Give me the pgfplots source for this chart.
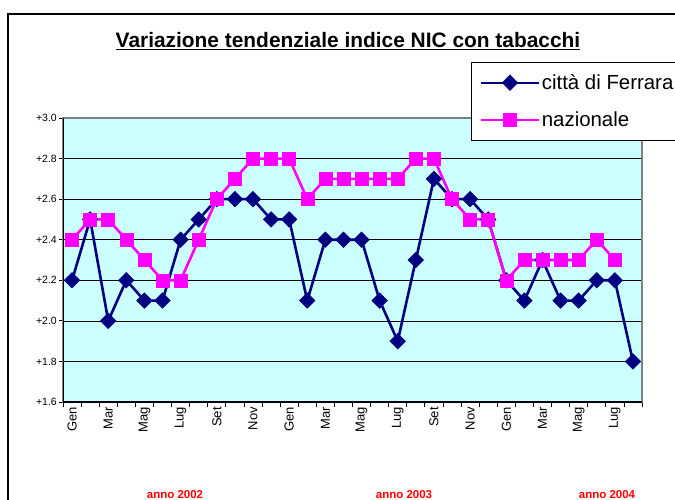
\documentclass[border=0pt]{standalone}
\usepackage{pgfplots}
\pgfplotsset{compat=1.18}
\usepackage{fontspec}
\setmainfont{Liberation Sans}
\definecolor{navyF}{RGB}{0,0,128}
\definecolor{magN}{RGB}{255,0,255}
\definecolor{bgC}{RGB}{204,255,255}
\begin{document}
\begin{tikzpicture}[x=1pt,y=1pt]
\useasboundingbox (0pt,0pt) rectangle (675pt,499pt);
\begin{scope}
\clip (0pt,0pt) rectangle (675pt,499pt);
\draw[black, line width=1.2pt] (8pt,-5pt) -- (8pt,485pt) -- (700pt,485pt);
\node[font=\bfseries\fontsize{20.9}{22}\selectfont] at (348pt,458pt) {\underline{Variazione tendenziale indice NIC con tabacchi}};
\begin{axis}[
  at={(63pt,97pt)}, anchor=south west,
  scale only axis, width=579pt, height=284pt,
  xmin=-0.5, xmax=31.5, ymin=1.6, ymax=3.0,
  axis background/.style={fill=bgC},
  axis line style={draw=gray, line width=1.5pt},
  tick align=outside, tick pos=left,
  xtick={0,2,4,6,8,10,12,14,16,18,20,22,24,26,28,30},
  xticklabels={Gen,Mar,Mag,Lug,Set,Nov,Gen,Mar,Mag,Lug,Set,Nov,Gen,Mar,Mag,Lug},
  x tick label style={rotate=90, anchor=east, font=\fontsize{13}{13}\selectfont, inner sep=1pt},
  major x tick style={draw=none},
  minor xtick={-0.5,0.5,...,31.5},
  minor tick length=5pt,
  minor x tick style={black, line width=0.8pt},
  ytick={1.6,1.8,2.0,2.2,2.4,2.6,2.8,3.0},
  yticklabels={+1.6,+1.8,+2.0,+2.2,+2.4,+2.6,+2.8,+3.0},
  y tick label style={font=\fontsize{10.5}{11}\selectfont, inner sep=2pt},
  major tick length=4pt,
  major y tick style={black, line width=0.8pt},
  ymajorgrids, grid style={black, line width=0.6pt},
  legend style={at={(0.705,1.197)}, anchor=north west, draw=black, fill=white,
    font=\fontsize{20.4}{20.4}\selectfont, row sep=15pt, inner xsep=9pt, inner ysep=9pt,
    line width=0.8pt, nodes={inner xsep=2.5pt, inner ysep=3pt}},
  legend cell align=left,
  legend image code/.code={\draw[#1, line width=1.8pt, mark repeat=2, mark phase=2] plot coordinates {(0pt,0pt) (28.5pt,0pt) (57pt,0pt)};},
]
\addplot[navyF, line width=2.6pt, mark=square*, mark size=5.5pt, mark options={solid, rotate=45, fill=navyF, line width=0.5pt}] coordinates {
(0,2.2) (1,2.5) (2,2.0) (3,2.2) (4,2.1) (5,2.1) (6,2.4) (7,2.5) (8,2.6) (9,2.6)
(10,2.6) (11,2.5) (12,2.5) (13,2.1) (14,2.4) (15,2.4) (16,2.4) (17,2.1) (18,1.9) (19,2.3)
(20,2.7) (21,2.6) (22,2.6) (23,2.5) (24,2.2) (25,2.1) (26,2.3) (27,2.1) (28,2.1) (29,2.2)
(30,2.2) (31,1.8)};
\addlegendentry{\makebox[160pt][l]{città di Ferrara}}
\addplot[magN, line width=2.6pt, mark=square*, mark size=6.5pt, mark options={solid, fill=magN, line width=0.5pt}] coordinates {
(0,2.4) (1,2.5) (2,2.5) (3,2.4) (4,2.3) (5,2.2) (6,2.2) (7,2.4) (8,2.6) (9,2.7)
(10,2.8) (11,2.8) (12,2.8) (13,2.6) (14,2.7) (15,2.7) (16,2.7) (17,2.7) (18,2.7) (19,2.8)
(20,2.8) (21,2.6) (22,2.5) (23,2.5) (24,2.2) (25,2.3) (26,2.3) (27,2.3) (28,2.3) (29,2.4)
(30,2.3)};
\addlegendentry{nazionale}
\draw[black, line width=1.2pt] (rel axis cs:0,1) -- (rel axis cs:0,0) -- (rel axis cs:1,0);
\end{axis}
\node[red, font=\bfseries\fontsize{11.5}{12}\selectfont, anchor=base] at (175pt,1pt) {anno 2002};
\node[red, font=\bfseries\fontsize{11.5}{12}\selectfont, anchor=base] at (404pt,1pt) {anno 2003};
\node[red, font=\bfseries\fontsize{11.5}{12}\selectfont, anchor=base] at (607pt,1pt) {anno 2004};
\end{scope}
\end{tikzpicture}
\end{document}
